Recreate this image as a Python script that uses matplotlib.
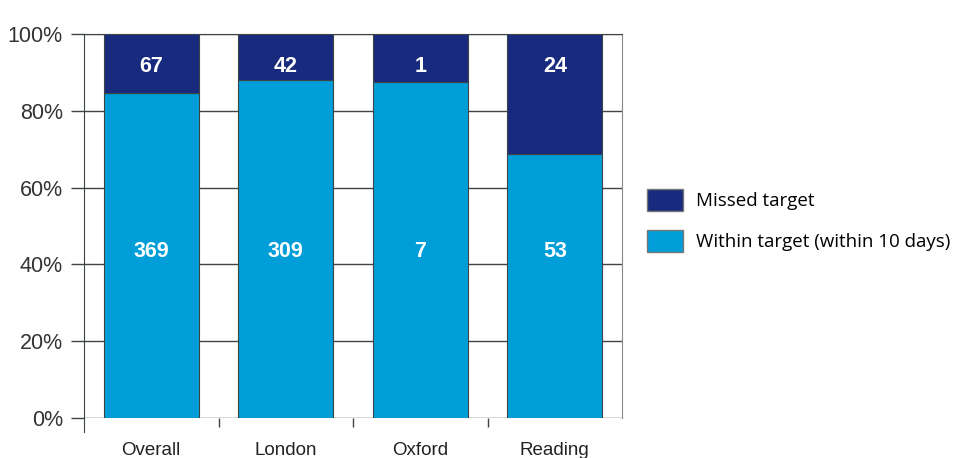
import matplotlib.pyplot as plt
from matplotlib.patches import Patch
import numpy as np

categories = ['Overall', 'London', 'Oxford', 'Reading']
within = [369, 309, 7, 53]
missed = [67, 42, 1, 24]

navy = '#182a7e'
light = '#009ed9'
grey = '#3c4446'

within = np.array(within, dtype=float)
missed = np.array(missed, dtype=float)
total = within + missed
within_pct = within / total
missed_pct = missed / total

fig = plt.figure(figsize=(9.59, 4.58), dpi=100)
ax = fig.add_axes([84 / 959, 40 / 458, 538 / 959, 384 / 458])

x = np.arange(len(categories))
width = 0.71
ax.bar(x, within_pct, width, color=light, edgecolor=grey, linewidth=0.8, zorder=3,
       label='Within target (within 10 days)')
ax.bar(x, missed_pct, width, bottom=within_pct, color=navy, edgecolor=grey, linewidth=0.8,
       zorder=3, label='Missed target')

for i in range(len(categories)):
    ax.text(x[i], 0.915, '{}'.format(int(missed[i])), color='white', fontsize=15.5,
            fontweight='bold', family='Liberation Sans', ha='center', va='center', zorder=4)
    ax.text(x[i], 0.433, '{}'.format(int(within[i])), color='white', fontsize=15.5,
            fontweight='bold', family='Liberation Sans', ha='center', va='center', zorder=4)

ax.set_xlim(-0.5, 3.5)
ax.set_ylim(0, 1)
ax.set_yticks(np.arange(0, 1.01, 0.2))
ax.set_yticklabels(['0%', '20%', '40%', '60%', '80%', '100%'])
ax.yaxis.grid(True, color=grey, linewidth=1, zorder=0)
# tick lengths in points (13px / 9px at 100 dpi)
ax.tick_params(axis='y', length=9.4, width=1, color=grey, pad=5.8, labelsize=15.5, labelcolor='#333333')
for lab in ax.get_yticklabels():
    lab.set_family('Liberation Sans')

ax.set_xticks(x)
ax.set_xticklabels(categories, family='Liberation Sans', fontsize=13.5, color='#222222')
ax.tick_params(axis='x', which='major', length=0, pad=17)
ax.set_xticks([0.5, 1.5, 2.5], minor=True)
ax.tick_params(axis='x', which='minor', length=6.5, width=1, color=grey)

ax.spines['bottom'].set_visible(False)
ax.spines['left'].set_color(grey)
ax.spines['right'].set_color('#888888')
ax.spines['top'].set_color(grey)
ax.spines['left'].set_bounds(-0.037, 1)

handles = [Patch(facecolor=navy, edgecolor='#777777', label='Missed target'),
           Patch(facecolor=light, edgecolor='#777777', label='Within target (within 10 days)')]
leg = fig.legend(handles=handles, loc='upper left', bbox_to_anchor=(643 / 959, 1 - 185 / 458),
                 frameon=False, prop={'family': 'Open Sans', 'size': 13.5},
                 handlelength=1.92, handleheight=1.43, handletextpad=0.7, labelspacing=1.02,
                 borderaxespad=0, borderpad=0.2)

fig.savefig('out.png', dpi=100)
